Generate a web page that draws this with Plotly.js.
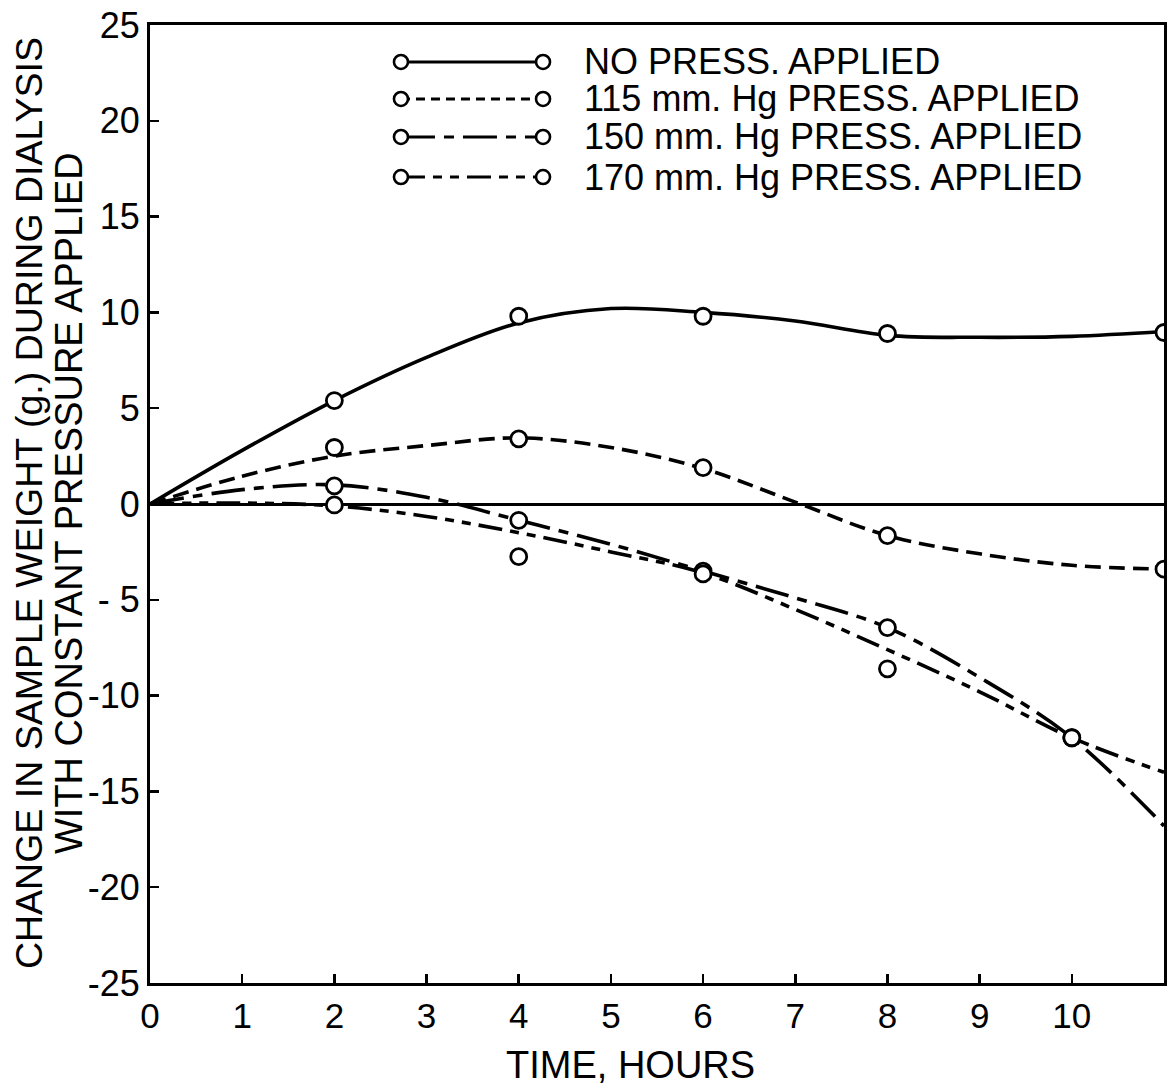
<!DOCTYPE html>
<html>
<head>
<meta charset="utf-8">
<script src="https://cdn.plot.ly/plotly-3.0.1.min.js"></script>
<style>
html,body{margin:0;padding:0;background:#fff;}
#chart{width:1168px;height:1086px;}
</style>
</head>
<body>
<div id="chart"></div>
<script>
// ---- data ----
const hours = [0, 1, 2, 3, 4, 5, 6, 7, 8, 9, 10, 11];
const noPressCurve = [0, 2.8, 5.4, 7.65, 9.45, 10.2, 10.0, 9.55, 8.8, 8.7, 8.75, 9.0];
const p115Curve   = [0, 1.45, 2.5, 3.05, 3.45, 2.95, 1.85, 0.1, -1.65, -2.6, -3.2, -3.4];
const p150Curve   = [0, 0.75, 1.0, 0.35, -0.85, -2.1, -3.5, -4.9, -6.45, -9.05, -12.2, -16.8];
const p170Curve   = [0, 0.05, -0.1, -0.65, -1.5, -2.5, -3.6, -5.5, -7.6, -9.8, -12.2, -14.0];

const noPressHours = [2, 4, 6, 8, 11];
const noPressObs   = [5.4, 9.8, 9.8, 8.9, 8.95];
const p115Hours = [2, 4, 6, 8, 11];
const p115Obs   = [2.95, 3.4, 1.9, -1.65, -3.4];
const p150Hours = [2, 4, 6, 8, 10];
const p150Obs   = [0.95, -0.85, -3.5, -6.45, -12.2];
const p170Hours = [2, 4, 6, 8, 10];
const p170Obs   = [-0.05, -2.75, -3.65, -8.6, -12.2];

const seriesNames = ["NO PRESS. APPLIED", "115 mm. Hg PRESS. APPLIED", "150 mm. Hg PRESS. APPLIED", "170 mm. Hg PRESS. APPLIED"];
const xTickVals = [0,1,2,3,4,5,6,7,8,9,10,11];
const xTickText = ["0","1","2","3","4","5","6","7","8","9","10","11"];
const yTickVals = [-25,-20,-15,-10,-5,0,5,10,15,20,25];
const yTickText = ["-25","-20","-15","-10","- 5","0","5","10","15","20","25"];
const xTitle = "TIME, HOURS";
const yTitle1 = "CHANGE IN SAMPLE WEIGHT (g.) DURING DIALYSIS";
const yTitle2 = "WITH CONSTANT PRESSURE APPLIED";

// ---- styling ----
const FONT = "Liberation Sans, Arial, Helvetica, sans-serif";
const dashes = ["solid", "16px,8px", "34px,9px,10px,9px", "24px,8px,9px,8px,9px,8px"];
const legendDashes = ["solid", "9px,6px", "34px,9px,10px,9px", "24px,8px,9px,8px,9px,8px"];
const curves = [noPressCurve, p115Curve, p150Curve, p170Curve];
const obsX = [noPressHours, p115Hours, p150Hours, p170Hours];
const obsY = [noPressObs, p115Obs, p150Obs, p170Obs];

const traces = [];
curves.forEach((c, i) => {
  traces.push({
    x: hours, y: c, mode: "lines", type: "scatter",
    line: {color: "#000", width: 3.6, dash: dashes[i], shape: "spline", smoothing: 1},
    hoverinfo: "skip", showlegend: false
  });
});
obsX.forEach((xs, i) => {
  traces.push({
    x: xs, y: obsY[i], mode: "markers", type: "scatter",
    marker: {symbol: "circle", size: 16, color: "#fff", line: {color: "#000", width: 2.8}},
    showlegend: false
  });
});

// legend samples on an overlay 0..1 axis pair
const legendRows = [0.9614, 0.9228, 0.8831, 0.8413];
const legendX = [0.2475, 0.3876];
const legendTextX = 0.426;
const annotations = [];
legendRows.forEach((ry, i) => {
  traces.push({
    x: legendX, y: [ry, ry], xaxis: "x2", yaxis: "y2", mode: "lines+markers", type: "scatter",
    line: {color: "#000", width: 3, dash: legendDashes[i]},
    marker: {symbol: "circle", size: 14, color: "#fff", line: {color: "#000", width: 2.6}},
    showlegend: false, hoverinfo: "skip", cliponaxis: false
  });
  annotations.push({
    text: seriesNames[i], xref: "paper", yref: "paper", x: legendTextX, y: ry,
    xanchor: "left", yanchor: "middle", showarrow: false,
    font: {family: FONT, size: 36, color: "#000"}
  });
});

annotations.push({
  text: yTitle1, xref: "paper", yref: "paper", x: -0.1193, y: 0.501, textangle: -90,
  xanchor: "center", yanchor: "middle", showarrow: false,
  font: {family: FONT, size: 37.5, color: "#000"}
});
annotations.push({
  text: yTitle2, xref: "paper", yref: "paper", x: -0.0799, y: 0.501, textangle: -90,
  xanchor: "center", yanchor: "middle", showarrow: false,
  font: {family: FONT, size: 38, color: "#000"}
});
annotations.push({
  text: xTitle, xref: "paper", yref: "paper", x: 0.4734, y: -0.0856,
  xanchor: "center", yanchor: "middle", showarrow: false,
  font: {family: FONT, size: 38, color: "#000"}
});

const layout = {
  width: 1168, height: 1086,
  margin: {l: 150, r: 4, t: 25, b: 103},
  paper_bgcolor: "#fff", plot_bgcolor: "#fff",
  showlegend: false,
  font: {family: FONT, color: "#000"},
  xaxis: {
    range: [0, 11], tickvals: xTickVals, ticktext: xTickText,
    ticks: "inside", ticklen: 9, tickwidth: 2.5, tickcolor: "#000",
    showline: true, linewidth: 3, linecolor: "#000", mirror: true,
    showgrid: false, zeroline: false,
    tickfont: {family: FONT, size: 35, color: "#000"}
  },
  yaxis: {
    range: [-25, 25], tickvals: yTickVals, ticktext: yTickText,
    ticks: "inside", ticklen: 9, tickwidth: 2.5, tickcolor: "#000",
    showline: true, linewidth: 3, linecolor: "#000", mirror: true,
    showgrid: false, zeroline: true, zerolinewidth: 3, zerolinecolor: "#000",
    tickfont: {family: FONT, size: 36, color: "#000"}
  },
  xaxis2: {range: [0, 1], overlaying: "x", visible: false, fixedrange: true},
  yaxis2: {range: [0, 1], overlaying: "y", visible: false, fixedrange: true},
  annotations: annotations
};

Plotly.newPlot("chart", traces, layout, {displayModeBar: false, staticPlot: true});
</script>
</body>
</html>
